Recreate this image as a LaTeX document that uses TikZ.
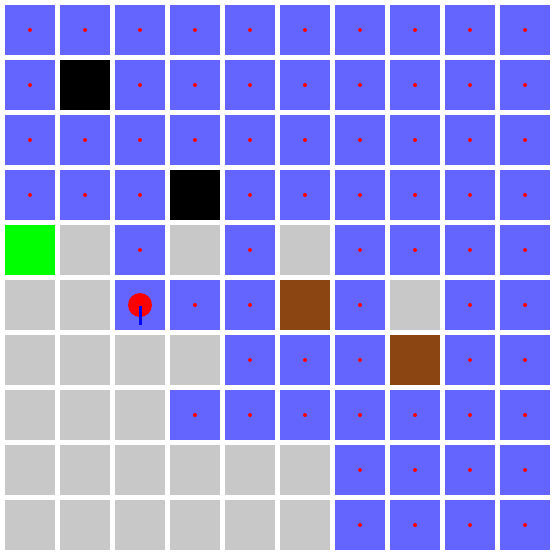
\documentclass[tikz,border=0pt]{standalone}
\definecolor{cellblue}{RGB}{100,100,255}
\definecolor{cellgray}{RGB}{200,200,200}
\definecolor{cellbrown}{RGB}{139,69,19}
\definecolor{cellgreen}{RGB}{0,255,0}
\definecolor{dotred}{RGB}{255,0,0}
\definecolor{stickblue}{RGB}{0,0,255}
\tikzset{
  cellbox/.style={fill=#1, draw=none},
}
\newcommand{\cellat}[3]{% row, col, colour
  \fill[#3] ({5+55*#2 pt},{-5-55*#1 pt}) rectangle ++(50pt,-50pt);}
\begin{document}
\begin{tikzpicture}[x=1pt,y=1pt]
\fill[white] (0,0) rectangle (555,-555);
\useasboundingbox (0,0) rectangle (555,-555);
\foreach \r in {0,...,9}{
  \foreach \c in {0,...,9}{
    \fill[cellblue] ({5+55*\c},{-5-55*\r}) rectangle ++(50,-50);
    \fill[dotred] ({30+55*\c},{-30-55*\r}) circle (2);
  }
}
\foreach \r/\c in {1/1,3/3}{
  \fill[black] ({5+55*\c},{-5-55*\r}) rectangle ++(50,-50);
}
\foreach \r/\c in {4/0}{
  \fill[cellgreen] ({5+55*\c},{-5-55*\r}) rectangle ++(50,-50);
}
\foreach \r/\c in {5/5,6/7}{
  \fill[cellbrown] ({5+55*\c},{-5-55*\r}) rectangle ++(50,-50);
}
\foreach \r/\c in {4/1,4/3,4/5,5/0,5/1,5/7,6/0,6/1,6/2,6/3,7/0,7/1,7/2,
                   8/0,8/1,8/2,8/3,8/4,8/5,9/0,9/1,9/2,9/3,9/4,9/5}{
  \fill[cellgray] ({5+55*\c},{-5-55*\r}) rectangle ++(50,-50);
}
% agent
\coordinate (agent) at (140,-305);
\coordinate (stickend) at (140,-325);
\fill[dotred] (agent) circle (12);
\draw[stickblue, line width=3] ([yshift=-1]agent) -- (stickend);
\end{tikzpicture}
\end{document}
